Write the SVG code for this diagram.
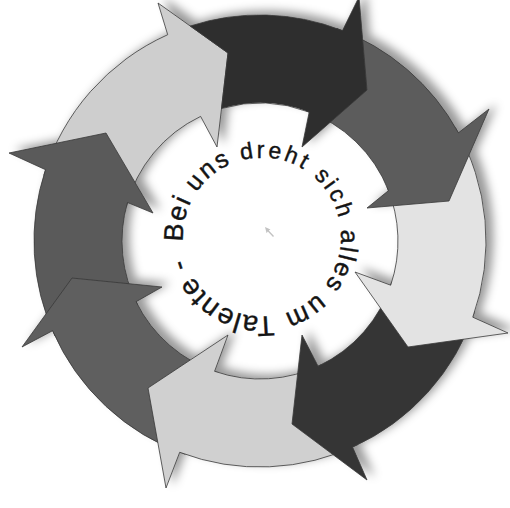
<svg xmlns="http://www.w3.org/2000/svg" xmlns:xlink="http://www.w3.org/1999/xlink" width="510" height="508" viewBox="0 0 510 508">
<defs>
<filter id="sh" x="-20%" y="-20%" width="140%" height="140%">
<feDropShadow dx="7" dy="-4" stdDeviation="5" flood-color="#000" flood-opacity="0.4"/>
</filter>
<path id="tp" d="M183.14,241.68 A79,79 0 1,1 340.86,232.32 A79,79 0 1,1 183.14,241.68"/>
</defs>
<style>
.a{stroke:#3a3a3a;stroke-width:0.8;stroke-linejoin:miter}
.t{font-family:"Liberation Sans",Arial,sans-serif;fill:#141414;stroke:#141414;stroke-width:0.4}
</style>
<rect width="510" height="508" fill="#fff"/>
<g id="cycle" filter="url(#sh)">
<g id="arrow8"><path class="a" fill="#cecece" d="M43.8,175.3 L126.5,206 A138,138 0 0,1 200.6,116.4 L217,147 L228,53 L158,3 L167.7,34.7 A226,226 0 0,0 43.8,175.3 Z"/></g>
<g id="arrow7"><path class="a" fill="#5a5a5a" d="M55,336.1 L137.7,304.9 A138,138 0 0,1 127.5,202.5 L153,213 L106,133 L9,153 L45.5,169.7 A226,226 0 0,0 55,336.1 Z"/></g>
<g id="arrow6"><path class="a" fill="#5e5e5e" d="M185.3,454.3 L218,372.5 A138,138 0 0,1 136.1,301.7 L162,287 L72,278 L22,347 L52.6,330.7 A226,226 0 0,0 185.3,454.3 Z"/></g>
<g id="arrow5"><path class="a" fill="#d0d0d0" d="M358,444.6 L321.4,364.6 A138,138 0 0,1 214.6,371.3 L228,335 L148,388 L166,488 L179.7,452.3 A226,226 0 0,0 358,444.6 Z"/></g>
<g id="arrow4"><path class="a" fill="#363636" d="M474.7,311.6 L391.8,281.8 A138,138 0 0,1 318.1,366.2 L302,335 L292,424 L367,480 L352.6,447.1 A226,226 0 0,0 474.7,311.6 Z"/></g>
<g id="arrow3"><path class="a" fill="#e3e3e3" d="M455.5,127.7 L387.1,187.3 A138,138 0 0,1 390.7,285.2 L355,272 L408,347 L508,333 L472.8,317.2 A226,226 0 0,0 455.5,127.7 Z"/></g>
<g id="arrow2"><path class="a" fill="#5c5c5c" d="M336.9,28.5 L305.8,110.8 A138,138 0 0,1 388.5,190.6 L367,208 L449,201 L489,109 L458.4,132.8 A226,226 0 0,0 336.9,28.5 Z"/></g>
<g id="arrow1"><path class="a" fill="#2e2e2e" d="M190.2,26 L228,53 L221.5,108.5 A138,138 0 0,1 309.2,112.1 L302,147 L367,90 L359,-3 L342.5,30.6 A226,226 0 0,0 190.2,26 Z"/></g>
</g>
<g id="connectors"></g>
<path id="mark" d="M265,227 L270.5,229.5 L268.8,230.6 L274,236 L273,237 L267.8,231.6 L266.6,233.2 Z" fill="#c2c2c2"/>
<g id="label"><text class="t"><textPath xlink:href="#tp"><tspan font-size="27" letter-spacing="1.26">Bei </tspan><tspan font-size="25" letter-spacing="2.3">uns </tspan><tspan font-size="23" letter-spacing="2.95">dreht </tspan><tspan font-size="23" letter-spacing="2.84">sich </tspan><tspan font-size="25" letter-spacing="1.9">alles </tspan><tspan font-size="27" letter-spacing="1.63">um </tspan><tspan font-size="28" letter-spacing="0.85">Talente -</tspan></textPath></text></g>
</svg>
